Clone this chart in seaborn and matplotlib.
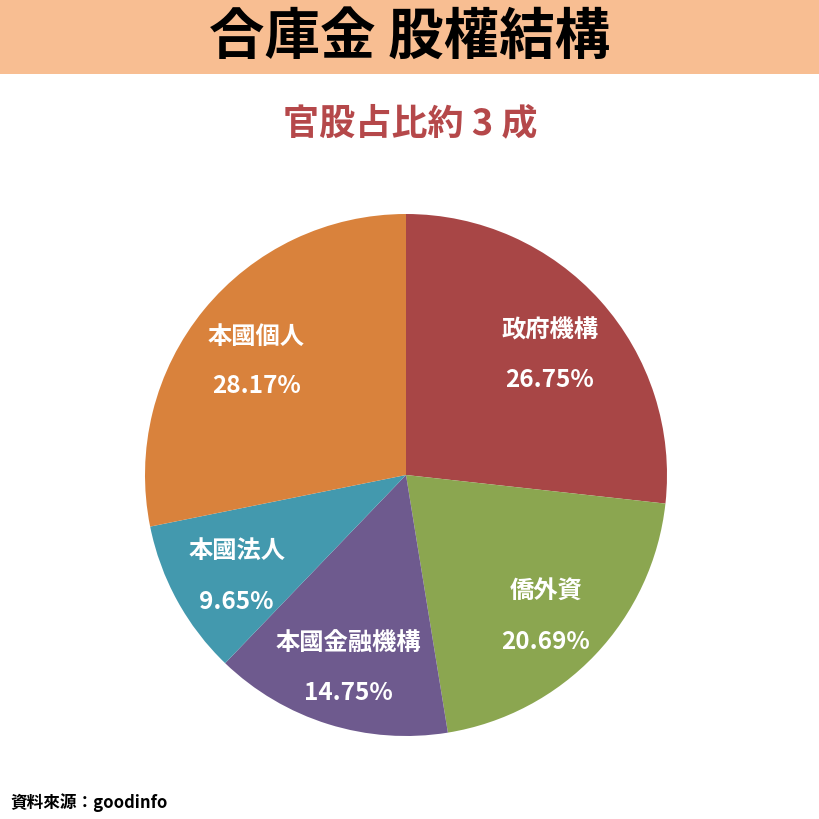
import matplotlib
matplotlib.use("Agg")
import matplotlib.pyplot as plt
from matplotlib import font_manager as fm
import seaborn as sns
import numpy as np

categories = ["政府機構", "僑外資", "本國金融機構", "本國法人", "本國個人"]
values = [26.75, 20.69, 14.75, 9.65, 28.17]
colors = ["#A84646", "#8BA650", "#6E5A8E", "#4399AE", "#D9823C"]

sns.set_theme(style="white")
cands = [f for f in fm.findSystemFonts() if "CJK" in f]
for f in cands:
    fm.fontManager.addfont(f)
names = sorted({fm.FontProperties(fname=f).get_name() for f in cands})
FONT = [n for n in ["Noto Sans CJK TC", "Noto Sans CJK JP", "Noto Sans CJK SC"] if n in names] + names + ["DejaVu Sans"]
plt.rcParams["font.family"] = FONT

fig = plt.figure(figsize=(8.2, 8.2), dpi=100)
fig.patch.set_facecolor("white")

band = fig.add_axes([0, 1 - 75/820, 1, 75/820])
band.set_facecolor("#F8BE92"); band.set_xticks([]); band.set_yticks([])
for s in band.spines.values(): s.set_visible(False)
fig.text(0.5, 1 - 38/820, "合庫金 股權結構", ha="center", va="center",
         fontsize=40, fontweight="bold", color="black")
fig.text(0.5, 1 - 124/820, "官股占比約 3 成", ha="center", va="center",
         fontsize=26, fontweight="bold", color="#B5484A")
fig.text(10/820, 1 - 803/820, "資料來源：goodinfo", ha="left", va="center",
         fontsize=12, fontweight="bold", color="black")

ax = fig.add_axes([(406-261)/820, (344-261)/820, 522/820, 522/820])
wedges, _ = ax.pie(values, colors=colors, startangle=90, counterclock=False,
                   radius=1, wedgeprops=dict(linewidth=0))
ax.set_xlim(-1, 1); ax.set_ylim(-1, 1); ax.set_aspect("equal"); ax.axis("off")
for w, name, v in zip(wedges, categories, values):
    a = np.deg2rad((w.theta1 + w.theta2) / 2)
    x, y = 0.74 * np.cos(a), 0.74 * np.sin(a) - 0.03
    ax.text(x, y + 0.095, name, ha="center", va="center", fontsize=17.5,
            fontweight="bold", color="white")
    ax.text(x, y - 0.095, f"{v:.2f}%", ha="center", va="center", fontsize=17.5,
            fontweight="bold", color="white")

fig.savefig("out.png", dpi=100, facecolor="white")
